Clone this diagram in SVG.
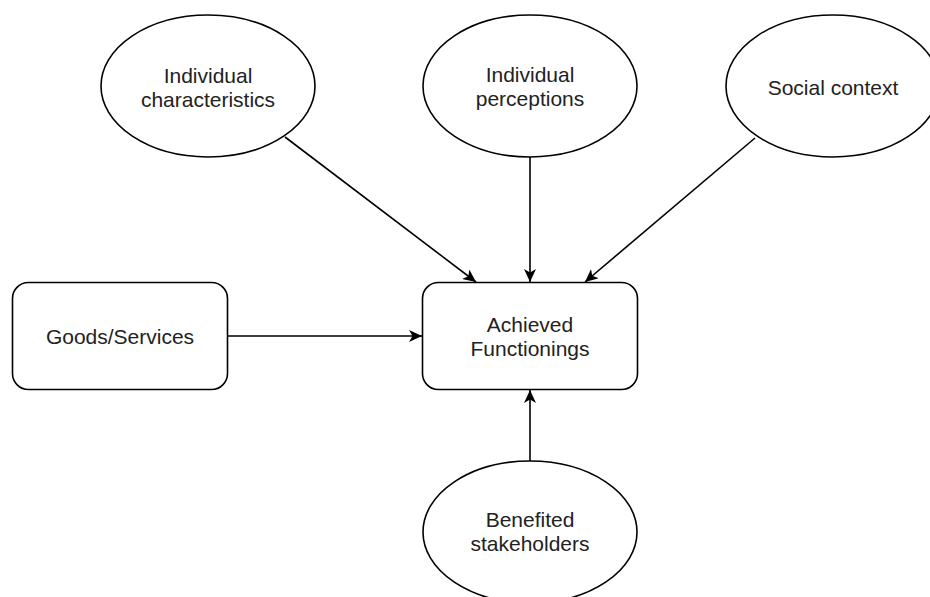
<svg xmlns="http://www.w3.org/2000/svg" width="930" height="597" viewBox="0 0 930 597">
  <defs>
    <marker id="arrow" viewBox="0 0 13 12" refX="13" refY="6" markerWidth="13" markerHeight="12" markerUnits="userSpaceOnUse" orient="auto">
      <path d="M0,0 L13,6 L0,12 L3.5,6 Z" fill="#000"/>
    </marker>
  </defs>
  <style>
    .shape { fill: #fff; stroke: #000; stroke-width: 1.6; }
    .label { font-family: "Liberation Sans", Arial, sans-serif; font-size: 21px; fill: #222; text-anchor: middle; }
    .edge { fill: none; stroke: #000; stroke-width: 1.6; marker-end: url(#arrow); }
  </style>
  <rect width="930" height="597" fill="#fff"/>

  <g id="connectors">
    <line class="edge" x1="285" y1="137" x2="476" y2="282"/>
    <line class="edge" x1="530" y1="157" x2="530" y2="282"/>
    <line class="edge" x1="755" y1="138" x2="585" y2="282"/>
    <line class="edge" x1="227.5" y1="336" x2="422" y2="336"/>
    <line class="edge" x1="530" y1="461" x2="530" y2="390"/>
  </g>

  <g id="individual-characteristics">
    <ellipse class="shape" cx="208" cy="86" rx="107" ry="71"/>
    <text class="label" x="208" y="83">Individual</text>
    <text class="label" x="208" y="107">characteristics</text>
  </g>

  <g id="individual-perceptions">
    <ellipse class="shape" cx="530" cy="86" rx="107" ry="71"/>
    <text class="label" x="530" y="82">Individual</text>
    <text class="label" x="530" y="106">perceptions</text>
  </g>

  <g id="social-context">
    <ellipse class="shape" cx="833" cy="86" rx="107" ry="71"/>
    <text class="label" x="833" y="95">Social context</text>
  </g>

  <g id="goods-services">
    <rect class="shape" x="12.5" y="282.5" width="215" height="107" rx="16" ry="16"/>
    <text class="label" x="120" y="344">Goods/Services</text>
  </g>

  <g id="achieved-functionings">
    <rect class="shape" x="422.5" y="282.5" width="215" height="107" rx="16" ry="16"/>
    <text class="label" x="530" y="332">Achieved</text>
    <text class="label" x="530" y="356">Functionings</text>
  </g>

  <g id="benefited-stakeholders">
    <ellipse class="shape" cx="530" cy="532" rx="107" ry="71"/>
    <text class="label" x="530" y="527">Benefited</text>
    <text class="label" x="530" y="551">stakeholders</text>
  </g>
</svg>
